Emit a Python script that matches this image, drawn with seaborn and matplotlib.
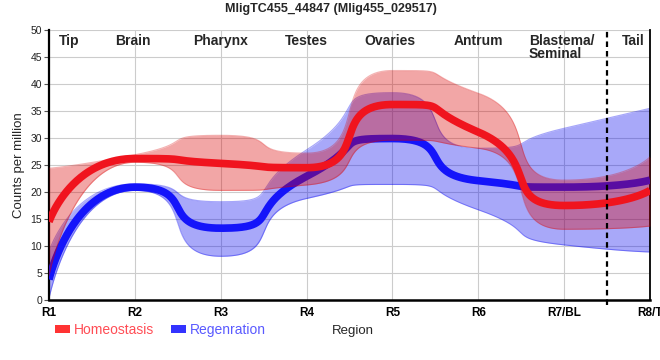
import numpy as np
import pandas as pd
import matplotlib
matplotlib.use("Agg")
import matplotlib.pyplot as plt
from matplotlib.patches import Patch
import seaborn as sns

# ---------------- data ----------------
regions = ["R1", "R2", "R3", "R4", "R5", "R6", "R7/BL", "R8/T"]
tissues = ["Tip", "Brain", "Pharynx", "Testes", "Ovaries", "Antrum", "Blastema/\nSeminal", "Tail"]
tissue_pos = [0.23, 0.98, 2.0, 3.0, 3.97, 5.0, 5.97, 6.81]

homeo_mean = [14.5, 26.2, 25.3, 24.5, 36.2, 31.1, 17.5, 20.3]
homeo_low = [4.5, 25.5, 20.3, 21.3, 29.6, 28.1, 13.1, 13.7]
homeo_high = [24.4, 26.9, 30.5, 27.2, 42.5, 38.3, 22.2, 26.5]

regen_mean = [3.8, 20.9, 13.3, 22.9, 29.9, 22.1, 20.9, 22.2]
regen_low = [0.3, 20.3, 8.1, 18.8, 21.4, 16.7, 10.2, 8.9]
regen_high = [9.0, 21.5, 18.2, 27.8, 38.4, 28.1, 31.8, 35.5]

title = "MligTC455_44847 (Mlig455_029517)"


# ---------- spline rendering (cubic Bezier, Highcharts-like control logic) ----------
def spline(xs, ys, n=80, sm=1.0 / 3.0):
    xs = list(map(float, xs)); ys = list(map(float, ys))
    N = len(xs)
    lc = [None] * N
    rc = [None] * N
    den = sm + 1.0
    for i in range(1, N - 1):
        px, py = xs[i], ys[i]
        lx, ly = xs[i - 1], ys[i - 1]
        nx, ny = xs[i + 1], ys[i + 1]
        lcx = (sm * px + lx) / den
        lcy = (sm * py + ly) / den
        rcx = (sm * px + nx) / den
        rcy = (sm * py + ny) / den
        corr = 0.0
        if rcx != lcx:
            corr = ((rcy - lcy) * (rcx - px)) / (rcx - lcx) + py - rcy
        lcy += corr
        rcy += corr
        if lcy > ly and lcy > py:
            lcy = max(ly, py); rcy = 2 * py - lcy
        elif lcy < ly and lcy < py:
            lcy = min(ly, py); rcy = 2 * py - lcy
        if rcy > ny and rcy > py:
            rcy = max(ny, py); lcy = 2 * py - rcy
        elif rcy < ny and rcy < py:
            rcy = min(ny, py); lcy = 2 * py - rcy
        lc[i] = (lcx, lcy)
        rc[i] = (rcx, rcy)
    ox, oy = [], []
    for i in range(1, N):
        p0 = np.array([xs[i - 1], ys[i - 1]])
        p3 = np.array([xs[i], ys[i]])
        p1 = np.array(rc[i - 1]) if rc[i - 1] is not None else p0
        p2 = np.array(lc[i]) if lc[i] is not None else p3
        t = np.linspace(0, 1, n, endpoint=(i == N - 1))[:, None]
        b = ((1 - t) ** 3) * p0 + 3 * ((1 - t) ** 2) * t * p1 + 3 * (1 - t) * t ** 2 * p2 + t ** 3 * p3
        ox.extend(b[:, 0]); oy.extend(b[:, 1])
    return np.array(ox), np.array(oy)


xidx = np.arange(len(regions))

sns.set_style("white")
plt.rcParams["font.family"] = ["Liberation Sans", "DejaVu Sans"]

fig = plt.figure(figsize=(6.6, 3.6), dpi=100)
L, R, B, T = 49 / 660, 650 / 660, 60 / 360, 330 / 360
ax = fig.add_axes([L, B, R - L, T - B])

red_band = (218 / 255, 0, 0)
blue_band = (0, 0, 240 / 255)
red_line = "#f0141e"
blue_line = "#1414fa"

# regeneration band + line
sx, rl = spline(xidx, regen_low)
_, rh = spline(xidx, regen_high)
ax.fill_between(sx, rl, rh, color=blue_band, alpha=0.34, linewidth=0, zorder=2)
ax.plot(sx, rl, color=blue_band, alpha=0.35, lw=0.8, zorder=2)
ax.plot(sx, rh, color=blue_band, alpha=0.35, lw=0.8, zorder=2)
_, rm = spline(xidx, regen_mean)
df_r = pd.DataFrame({"x": sx, "y": rm})
sns.lineplot(data=df_r, x="x", y="y", sort=False, estimator=None, color=blue_line,
             lw=5.5, ax=ax, zorder=3, solid_capstyle="butt")

# homeostasis band + line
_, hl = spline(xidx, homeo_low)
_, hh = spline(xidx, homeo_high)
ax.fill_between(sx, hl, hh, color=red_band, alpha=0.35, linewidth=0, zorder=4)
ax.plot(sx, hl, color=red_band, alpha=0.3, lw=0.8, zorder=4)
ax.plot(sx, hh, color=red_band, alpha=0.3, lw=0.8, zorder=4)
_, hm = spline(xidx, homeo_mean)
df_h = pd.DataFrame({"x": sx, "y": hm})
sns.lineplot(data=df_h, x="x", y="y", sort=False, estimator=None, color=red_line,
             lw=5.5, ax=ax, zorder=5, solid_capstyle="butt")

# axes
ax.set_xlim(0, len(regions) - 1)
ax.set_ylim(0, 50)
ax.set_yticks(np.arange(0, 51, 5))
ax.set_xticks(xidx)
ax.set_xticklabels(regions, fontweight="bold", fontsize=8.5)
ax.tick_params(axis="x", length=0, pad=5, colors="black")
ax.tick_params(axis="y", length=3.5, width=0.8, color="#555555", labelsize=7.5,
               labelcolor="#222222", pad=1.5, direction="out", left=True)
ax.grid(True, color="#cccccc", lw=0.8, zorder=0)
ax.set_axisbelow(True)
ax.set_xlabel("")
ax.set_ylabel("")
for s in ["left", "bottom", "right"]:
    ax.spines[s].set_visible(True)
    ax.spines[s].set_color("black")
ax.spines["left"].set_linewidth(1.6)
ax.spines["bottom"].set_linewidth(1.8)
ax.spines["right"].set_linewidth(1.3)
ax.spines["top"].set_visible(False)

# dashed separator
ax.axvline(6.5, ymin=-0.02, ymax=1.0, color="black", lw=1.6, ls=(0, (2.5, 1.8)),
           clip_on=False, zorder=6)

# tissue labels
for lab, pos in zip(tissues, tissue_pos):
    ax.text(pos, 49.3, lab, ha="center", va="top", fontsize=10, fontweight="bold",
            multialignment="left", linespacing=0.95, zorder=7)

# title & labels
fig.text(331 / 660, 1 - 9 / 360, title, ha="center", va="center", fontsize=9,
         fontweight="bold")
fig.text(19 / 660, 1 - 165 / 360, "Counts per million", rotation=90, ha="center",
         va="center", fontsize=9.5)
fig.text(353 / 660, 1 - 331 / 360, "Region", ha="center", va="center", fontsize=9.5)

handles = [Patch(facecolor="#ff3333", edgecolor="none"),
           Patch(facecolor="#3333ff", edgecolor="none")]
fig.legend(handles=handles, labels=["Homeostasis", "Regenration"],
           labelcolor=["#ff4d55", "#5a5aff"], ncol=2, frameon=False,
           loc="center left", bbox_to_anchor=(55 / 660, 1 - 330 / 360),
           borderpad=0, borderaxespad=0, handlelength=1.05, handleheight=0.5,
           handletextpad=0.3, columnspacing=1.25, fontsize=10)

fig.savefig("out.png", dpi=100)
